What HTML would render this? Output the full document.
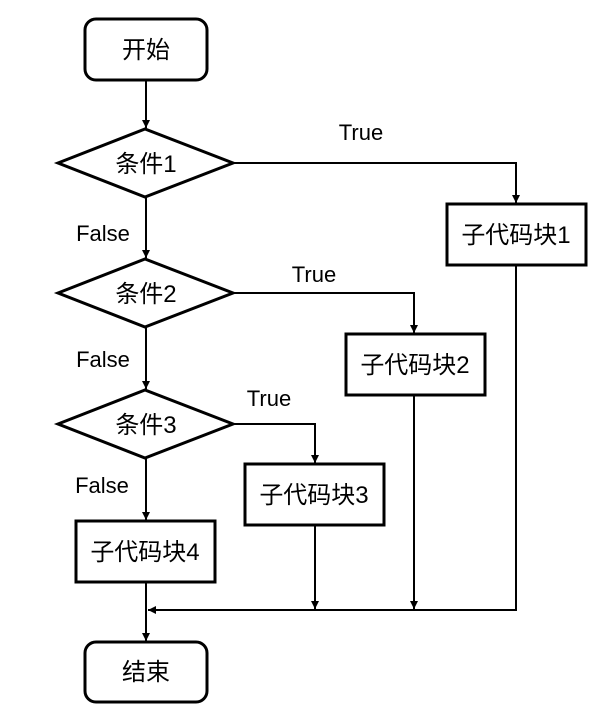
<!DOCTYPE html>
<html><head><meta charset="utf-8"><style>
html,body{margin:0;padding:0;background:#fff;}
svg text{font-family:"Liberation Sans","Noto Sans CJK SC",sans-serif;fill:#000;}
</style></head><body>
<svg width="611" height="715" viewBox="0 0 611 715" xmlns="http://www.w3.org/2000/svg">
<defs><marker id="a" markerWidth="10" markerHeight="10" refX="8" refY="4" orient="auto" markerUnits="userSpaceOnUse"><path d="M0,0 L8,4 L0,8 z" fill="#000"/></marker></defs>
<g stroke="#000" stroke-width="3" fill="none">
<rect x="85" y="19" width="122" height="61" rx="11"/>
<polygon points="58,163 145,129 233,163 145,197"/>
<polygon points="58,293 145,259 233,293 145,327"/>
<polygon points="58,424 145,390 233,424 145,458"/>
<rect x="447" y="204" width="139" height="61"/>
<rect x="346" y="334" width="139" height="61"/>
<rect x="245" y="464" width="139" height="61"/>
<rect x="76" y="521" width="139" height="61"/>
<rect x="85" y="642" width="122" height="60" rx="11"/>
</g>
<g stroke="#000" stroke-width="2" fill="none">
<line x1="146" y1="80" x2="146" y2="128" marker-end="url(#a)"/>
<line x1="146" y1="197" x2="146" y2="258" marker-end="url(#a)"/>
<line x1="146" y1="327" x2="146" y2="389" marker-end="url(#a)"/>
<line x1="146" y1="458" x2="146" y2="520" marker-end="url(#a)"/>
<line x1="146" y1="582" x2="146" y2="641" marker-end="url(#a)"/>
<polyline points="233,163 516,163 516,203" marker-end="url(#a)"/>
<polyline points="233,293 414,293 414,333" marker-end="url(#a)"/>
<polyline points="233,424 315,424 315,463" marker-end="url(#a)"/>
<line x1="315" y1="525" x2="315" y2="609" marker-end="url(#a)"/>
<line x1="414" y1="395" x2="414" y2="609" marker-end="url(#a)"/>
<polyline points="516,265 516,610 148,610" marker-end="url(#a)"/>
</g>
<g font-size="24" text-anchor="middle">
<text x="146" y="58">开始</text>
<text x="146" y="172">条件1</text>
<text x="146" y="302">条件2</text>
<text x="146" y="433">条件3</text>
<text x="516" y="243">子代码块1</text>
<text x="415" y="373">子代码块2</text>
<text x="314" y="503">子代码块3</text>
<text x="145" y="560">子代码块4</text>
<text x="146" y="680">结束</text>
</g>
<g font-size="22" text-anchor="middle">
<text x="361" y="140">True</text>
<text x="314" y="282">True</text>
<text x="269" y="406">True</text>
<text x="103" y="241">False</text>
<text x="103" y="367">False</text>
<text x="102" y="493">False</text>
</g>
</svg>
</body></html>
